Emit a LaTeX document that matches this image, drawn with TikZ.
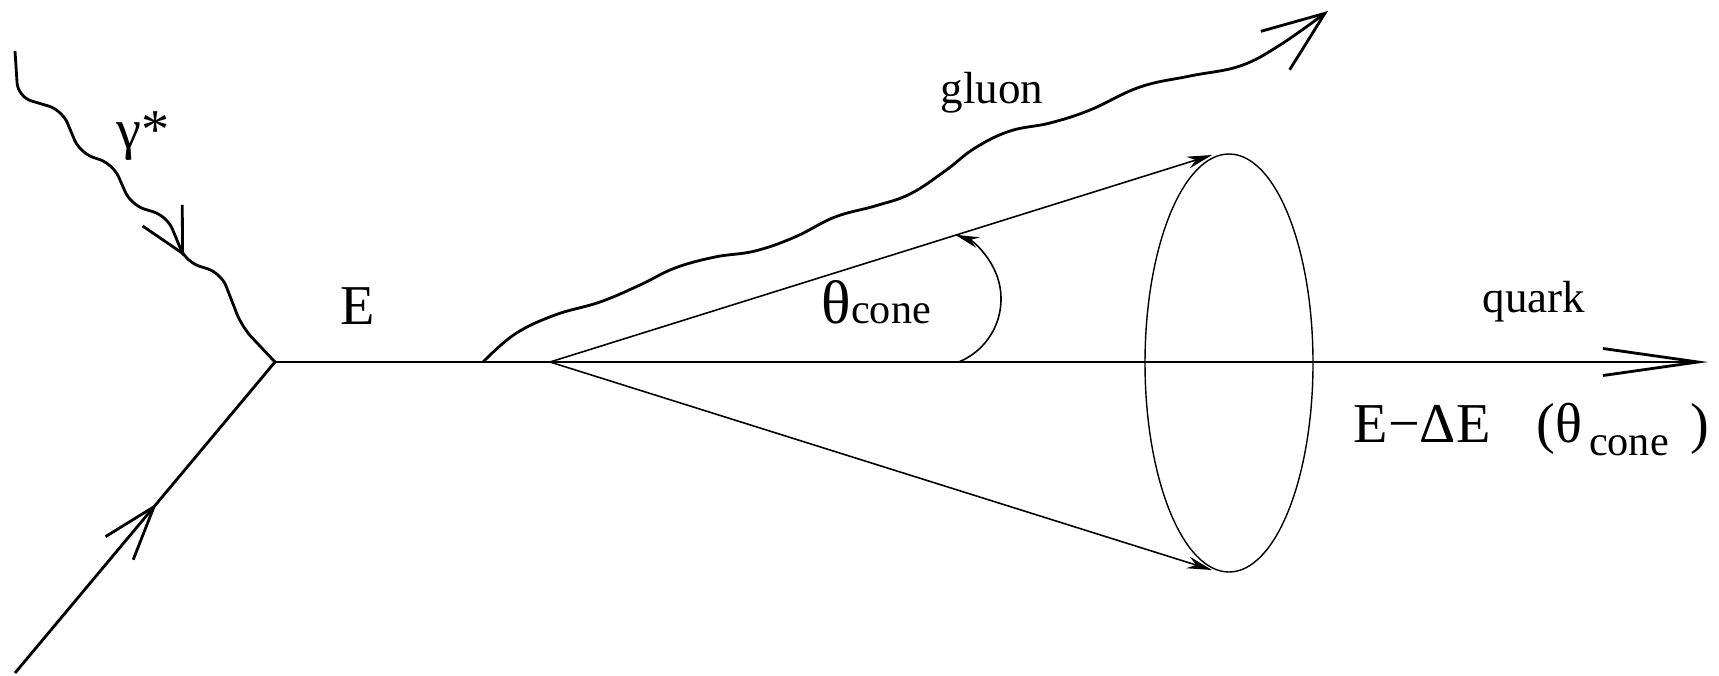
\documentclass[tikz,border=0pt]{standalone}
\usepackage{fontspec}
\setmainfont{Liberation Serif}
\usepackage{tikz}
\usetikzlibrary{arrows.meta,calc,decorations.markings}

\newcommand{\lgfont}{\fontsize{16pt}{19pt}\selectfont}
\newcommand{\thfont}{\fontsize{17.5pt}{20pt}\selectfont}
\newcommand{\mdfont}{\fontsize{12.8pt}{15pt}\selectfont}
\newcommand{\smfont}{\fontsize{12pt}{14pt}\selectfont}

\begin{document}
\begin{tikzpicture}[
  x=0.01cm, y=0.01cm,
  line/.style={line width=0.8pt, line join=round},
  thinline/.style={line width=0.45pt},
  lbl/.style={anchor=base west, inner sep=0pt},
  midbarb/.style={postaction={decorate}, decoration={markings,
      mark=at position #1 with {\arrow{Straight Barb[length=0.54cm,width=0.36cm]}}}}
]
\useasboundingbox (0,0) rectangle (1719,675);

%% end points
\coordinate (vtx) at (275,313);
\coordinate (qin) at (15,2);
\coordinate (qout) at (1708,313);
\coordinate (pstart) at (15,624);
\coordinate (gstart) at (483,313);
\coordinate (gend) at (1328,664);
\coordinate (apex) at (550,313);
\coordinate (ctop) at (1212,520);
\coordinate (cbot) at (1212,105);
\coordinate (ring) at (1229,312);
\coordinate (arcc) at (933,376);

%% quarks
\draw[line, midbarb=0.546] (qin) -- (vtx);
\draw[line, -{Straight Barb[length=0.95cm,width=0.27cm]}] (vtx) -- (qout);

%% photon
\draw[line, rounded corners=0.14cm] (pstart) -- (18,578) -- (62,565) -- (80,522)
  -- (113,511) -- (131,470) -- (167,459) -- (186,413) -- (221,402) -- (242,348) -- (vtx);
\coordinate (ptip) at (184,419);
\draw[line, -{Straight Barb[length=0.43cm,width=0.45cm]}] ($(ptip)+(118:1)$) -- (ptip);

%% gluon
\draw[line, -{Straight Barb[length=0.62cm,width=0.48cm]}] plot[smooth, tension=0.65] coordinates {(gstart)
  (515,341) (555,360) (600,373) (640,390) (675,407) (715,418) (755,424) (795,438)
  (835,458) (875,469) (910,481) (945,504) (975,527) (1010,544) (1050,552) (1090,565)
  (1140,588) (1190,599) (1240,609) (1280,630) (gend)};

%% cone
\draw[thinline, -{Stealth[length=0.25cm,width=0.12cm]}] (apex) -- (ctop);
\draw[thinline, -{Stealth[length=0.25cm,width=0.12cm]}] (apex) -- (cbot);
\draw[line width=0.4pt] (ring) ellipse [x radius=84, y radius=209];
\draw[thinline, -{Stealth[length=0.24cm,width=0.11cm]}]
  (arcc) ++(-68:68) arc[start angle=-68, end angle=71, radius=68];

%% labels
\node[lbl, font=\lgfont] (gamlbl) at (116,527) {γ*};
\node[lbl, font=\lgfont] (elbl) at (340,351) {E};
\node[lbl, font=\mdfont] (glbl) at (940,572) {gluon};
\node[lbl, font=\thfont] (thlbl) at (821,352) {θ{\smfont cone}};
\node[lbl, font=\mdfont] (qlbl) at (1482,363) {quark};
\node[lbl, font=\lgfont] (eloss) at (1353,233)
  {E−ΔE\hspace{0.46cm}(θ\raisebox{-0.13cm}{\hspace{0.07cm}\smfont cone}\hspace{0.22cm})};

\end{tikzpicture}
\end{document}
